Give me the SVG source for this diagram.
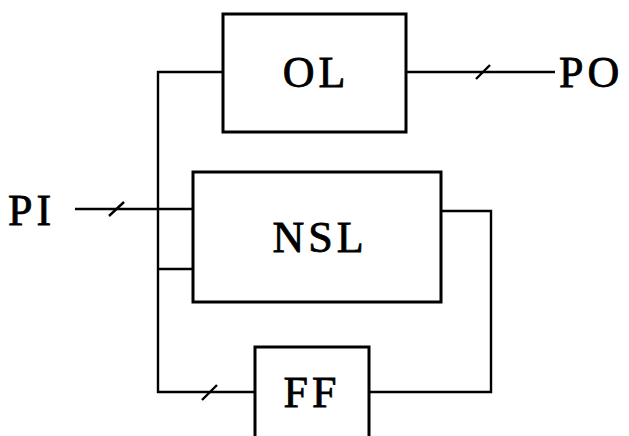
<svg xmlns="http://www.w3.org/2000/svg" width="629" height="436" viewBox="0 0 629 436">
<style>
.box{fill:#fff;stroke:#000;stroke-width:3}
.ln{fill:none;stroke:#000;stroke-width:2.4;stroke-linejoin:miter}
.sl{stroke:#000;stroke-width:2.4}
.t{font-family:"Liberation Serif","DejaVu Serif",serif;font-size:44px;fill:#000;stroke:#000;stroke-width:0.8;letter-spacing:4px}
.c{text-anchor:middle}
</style>
<rect width="629" height="436" fill="#fff"/>
<g id="connectors">
<polyline class="ln" points="223,72 158,72 158,392 255,392"/>
<line class="ln" x1="158" y1="269" x2="193" y2="269"/>
<line class="ln" x1="75" y1="209" x2="193" y2="209"/>
<line class="ln" x1="406" y1="72" x2="555" y2="72"/>
<polyline class="ln" points="441,211 491,211 491,392 369,392"/>
<line class="sl" x1="109" y1="216" x2="124" y2="202"/>
<line class="sl" x1="476" y1="79" x2="490" y2="65"/>
<line class="sl" x1="202" y1="400" x2="217" y2="385"/>
</g>
<g id="OL">
<rect class="box" x="223" y="14" width="183" height="118"/>
<text class="t c" x="316" y="87">OL</text>
</g>
<g id="NSL">
<rect class="box" x="193" y="172" width="248" height="130"/>
<text class="t c" x="320" y="252">NSL</text>
</g>
<g id="FF">
<rect class="box" x="255" y="347" width="114" height="100"/>
<text class="t c" x="312" y="407">FF</text>
</g>
<g id="PI">
<text class="t" x="8" y="225">PI</text>
</g>
<g id="PO">
<text class="t" x="559" y="87">PO</text>
</g>
</svg>
